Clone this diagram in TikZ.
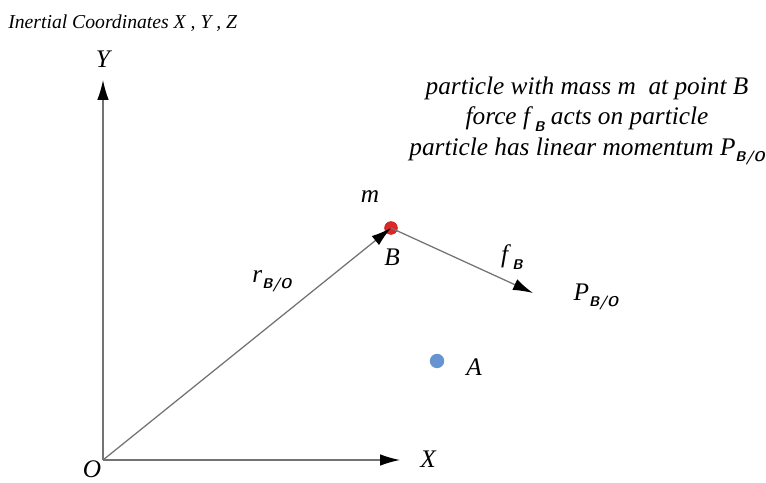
\documentclass[tikz,border=0pt]{standalone}
\usepackage{fontspec}
\setmainfont{Liberation Serif}
\usepackage{tikz}
\usetikzlibrary{arrows.meta}
\definecolor{DotRed}{rgb}{0.88, 0.15, 0.15}
\definecolor{DotBlue}{rgb}{0.40, 0.58, 0.82}
\newcommand{\subsf}[1]{\raisebox{-0.55ex}{\fontsize{10}{11}\selectfont\sffamily\bfseries #1}}

\begin{document}
\begin{tikzpicture}[
  lbl/.style  = {font=\fontsize{18}{20}\selectfont\itshape, inner sep=1pt},
  txt/.style  = {font=\fontsize{18}{21.5}\selectfont\itshape, align=center, inner sep=0pt},
  vec/.style  = {draw=black!55, line width=0.9pt},
  pdot/.style = {circle, minimum size=3.2mm, inner sep=0pt},
  >={Latex[black, length=5mm, width=2.9mm]},
]
\useasboundingbox (0,0) rectangle (19.15,12.075);

\coordinate (O)  at (2.575, 0.575);
\coordinate (Yt) at (2.575, 10.075);
\coordinate (Xt) at (10.0, 0.575);
\coordinate (Fe) at (13.325, 4.75);

\node[pdot, fill=DotRed, draw=DotRed!80!black, line width=0.4pt] (B) at (9.775, 6.375) {};
\node[pdot, fill=DotBlue, minimum size=3.6mm] (A) at (10.925, 3.05) {};

% axes
\draw[vec, ->] (O) -- (Yt);
\draw[vec, ->] (O) -- (Xt);

% position and force
\draw[vec, ->] (O) -- (B.center);
\draw[vec, ->] (B.center) -- (Fe);

\node[lbl] (Ylbl) at (2.575, 10.6) {Y};
\node[lbl] (Xlbl) at (10.7, 0.6) {X};
\node[lbl] (Olbl) at (2.3, 0.34) {O};
\node[lbl] (mlbl) at (9.25, 7.15) {m};
\node[lbl] (Blbl) at (9.8, 5.65) {B};
\node[lbl] (rlbl) at (6.8, 5.05) {r\subsf{B/O}};
\node[lbl] (flbl) at (12.8, 5.65) {f\,\subsf{B}};
\node[lbl] (Plbl) at (14.9, 4.65) {P\subsf{B/O}};
\node[lbl] (Albl) at (11.85, 2.9) {A};

\node[font=\fontsize{14}{16}\selectfont\itshape, anchor=west, inner sep=0pt]
  (title) at (0.2, 11.5) {Inertial Coordinates X , Y , Z};

\node[txt] (info) at (14.675, 9.05)
  {particle with mass m \ at point B\\
   force f\,\subsf{B} acts on particle\\
   particle has linear momentum P\subsf{B/O}};

\end{tikzpicture}
\end{document}
